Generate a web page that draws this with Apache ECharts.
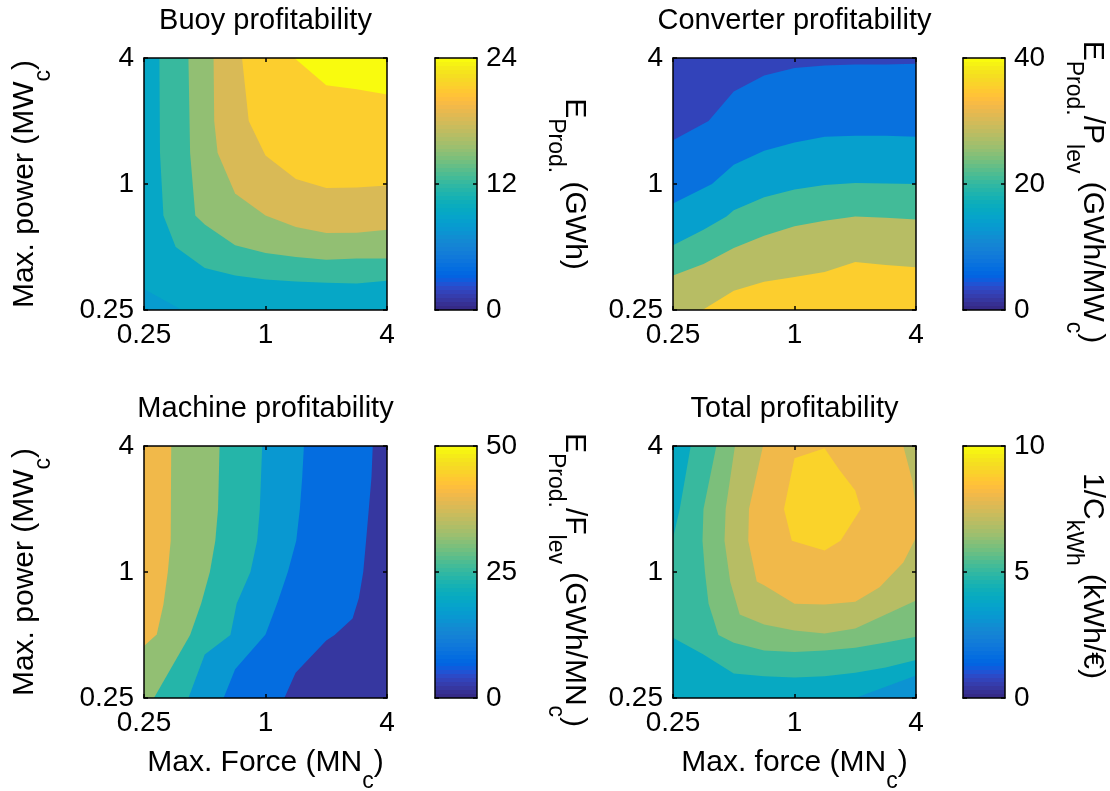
<!DOCTYPE html>
<html><head><meta charset="utf-8">
<script src="https://cdn.jsdelivr.net/npm/echarts@6/dist/echarts.min.js"></script>
<style>html,body{margin:0;padding:0;background:#fff}#c{width:1110px;height:791px}</style>
</head><body><div id="c"></div>
<script>
// ---------------- DATA ----------------
const forceTicks = [0.25, 1, 4];
const forceTickLabels = ['0.25', '1', '4'];
const powerTicks = [0.25, 1, 4];
const powerTickLabels = ['0.25', '1', '4'];

// Buoy profitability (GWh) : band values (colour of each filled band) and contour lines
const buoyCbTicks = [0, 12, 24];
const buoyBandValues = [7.9, 9, 12, 15, 18, 21, 24];
const buoyLine9  = [[0.25,0.315],[0.385,0.25]];
const buoyLine12 = [[0.298,4],[0.30,1.41],[0.312,0.707],[0.359,0.5],[0.5,0.397],[0.707,0.365],[1,0.35],[1.414,0.342],[2,0.337],[2.83,0.335],[4,0.345]];
const buoyLine15 = [[0.415,4],[0.423,1.41],[0.449,0.707],[0.5,0.64],[0.707,0.51],[1,0.468],[1.414,0.448],[2,0.435],[2.83,0.44],[4,0.44]];
const buoyLine18 = [[0.553,4],[0.557,2],[0.579,1.41],[0.707,0.9],[1,0.707],[1.414,0.623],[2,0.583],[2.83,0.585],[4,0.605]];
const buoyLine21 = [[0.765,4],[0.795,2.83],[0.826,2],[1,1.37],[1.414,1.056],[2,0.957],[2.83,0.963],[4,0.983]];
const buoyLine24 = [[1.39,4],[2,2.96],[2.83,2.84],[4,2.68]];

// Converter profitability (GWh/MWc)
const convCbTicks = [0, 20, 40];
const convBandValues = [2.8, 7, 14, 21, 28, 35];
const convLine7  = [[4,3.75],[2.83,3.72],[2,3.72],[1.41,3.68],[1,3.58],[0.707,3.3],[0.5,2.77],[0.375,2.0],[0.25,1.617]];
const convLine14 = [[4,1.68],[2.83,1.70],[2,1.70],[1.41,1.68],[1,1.58],[0.707,1.44],[0.5,1.237],[0.39,1.0],[0.25,0.806]];
const convLine21 = [[4,1.0],[2,1.01],[1.41,0.99],[1,0.94],[0.707,0.865],[0.5,0.75],[0.46,0.70],[0.354,0.605],[0.25,0.51]];
const convLine28 = [[4,0.676],[2.83,0.69],[2,0.70],[1.41,0.668],[1,0.628],[0.707,0.566],[0.5,0.495],[0.354,0.415],[0.25,0.365]];
const convLine35 = [[4,0.40],[2.83,0.41],[2,0.424],[1.41,0.38],[1,0.359],[0.707,0.341],[0.5,0.309],[0.35,0.25]];

// Machine profitability (GWh/MNc)
const machCbTicks = [0, 25, 50];
const machBandValues = [1.9, 8, 16, 24, 32, 40];
const machLine8  = [[1.24,0.25],[1.41,0.33],[2,0.47],[2.2,0.5],[2.7,0.6],[2.9,0.75],[3.05,1.0],[3.15,1.41],[3.25,2],[3.35,2.83],[3.4,4]];
const machLine16 = [[0.62,0.25],[0.707,0.343],[1,0.503],[1.15,0.72],[1.29,1.0],[1.42,1.41],[1.48,2],[1.52,2.83],[1.55,4]];
const machLine24 = [[0.415,0.25],[0.5,0.404],[0.67,0.5],[0.72,0.707],[0.842,1.0],[0.909,1.41],[0.937,2],[0.963,4]];
const machLine32 = [[0.28,0.25],[0.423,0.5],[0.48,0.707],[0.53,1.0],[0.564,1.41],[0.582,2],[0.592,4]];
const machLine40 = [[0.25,0.443],[0.289,0.503],[0.312,0.70],[0.328,1.0],[0.339,1.41],[0.341,4]];

// Total profitability (kWh/€)
const totCbTicks = [0, 5, 10];
const totBandValues = [3, 4, 5, 6, 7, 8, 9];
const totLine4  = [[2.0,0.25],[4,0.32]];
const totLine5a = [[0.306,4],[0.27,2],[0.25,1.45]];
const totLine5b = [[0.25,0.485],[0.354,0.404],[0.5,0.327],[0.707,0.318],[1,0.313],[1.41,0.318],[2,0.33],[2.83,0.35],[4,0.38]];
const totLine6  = [[0.41,4],[0.354,2],[0.35,1.41],[0.36,1.0],[0.375,0.707],[0.42,0.5],[0.5,0.459],[0.707,0.422],[1,0.415],[1.41,0.422],[2,0.434],[2.83,0.46],[4,0.49]];
const totLine7  = [[0.507,4],[0.456,2],[0.45,1.41],[0.48,0.9],[0.535,0.627],[0.707,0.562],[1,0.526],[1.41,0.509],[2,0.537],[2.83,0.627],[4,0.73]];
const totLine8a = [[0.698,4],[0.595,2],[0.59,1.41],[0.65,0.9],[0.707,0.865],[1,0.705],[1.41,0.70],[2,0.72],[2.64,0.845],[3.46,1.11],[4,1.46]];
const totLine8b = [[4,2.0],[3.84,2.72],[3.46,4]];
const totLine9  = [[1.41,3.9],[1.0,3.5],[0.887,2.0],[0.97,1.41],[1.41,1.267],[1.69,1.41],[2.13,2.0],[2.0,2.45],[1.66,3.1]];

// ---------------- STYLE / LAYOUT ----------------
const FONT = "'Liberation Sans', Arial, Helvetica, sans-serif";
const TICK_FS = 28, TITLE_FS = 29, LABEL_FS = 30, SUB_FS = 23;
const parula = [
[0.2081,0.1663,0.5292],[0.2116,0.1898,0.5777],[0.2123,0.2138,0.6270],[0.2081,0.2386,0.6771],
[0.1959,0.2645,0.7279],[0.1707,0.2919,0.7792],[0.1253,0.3242,0.8303],[0.0591,0.3598,0.8683],
[0.0117,0.3875,0.8820],[0.0060,0.4086,0.8828],[0.0165,0.4266,0.8786],[0.0329,0.4430,0.8720],
[0.0498,0.4586,0.8641],[0.0629,0.4737,0.8554],[0.0723,0.4887,0.8467],[0.0779,0.5040,0.8384],
[0.0793,0.5200,0.8312],[0.0749,0.5375,0.8263],[0.0641,0.5570,0.8240],[0.0488,0.5772,0.8228],
[0.0343,0.5966,0.8199],[0.0265,0.6137,0.8135],[0.0239,0.6287,0.8038],[0.0231,0.6418,0.7913],
[0.0228,0.6535,0.7768],[0.0267,0.6642,0.7607],[0.0384,0.6743,0.7436],[0.0590,0.6838,0.7254],
[0.0843,0.6928,0.7062],[0.1133,0.7015,0.6859],[0.1453,0.7098,0.6646],[0.1801,0.7177,0.6424],
[0.2178,0.7250,0.6193],[0.2586,0.7317,0.5954],[0.3022,0.7376,0.5712],[0.3482,0.7424,0.5473],
[0.3953,0.7459,0.5244],[0.4420,0.7481,0.5033],[0.4871,0.7491,0.4840],[0.5300,0.7491,0.4661],
[0.5709,0.7485,0.4494],[0.6099,0.7473,0.4337],[0.6473,0.7456,0.4188],[0.6834,0.7435,0.4044],
[0.7184,0.7411,0.3905],[0.7525,0.7384,0.3768],[0.7858,0.7356,0.3633],[0.8185,0.7327,0.3498],
[0.8507,0.7299,0.3360],[0.8824,0.7274,0.3217],[0.9139,0.7258,0.3063],[0.9450,0.7261,0.2886],
[0.9739,0.7314,0.2666],[0.9938,0.7455,0.2403],[0.9990,0.7653,0.2164],[0.9955,0.7861,0.1967],
[0.9880,0.8066,0.1794],[0.9789,0.8271,0.1633],[0.9697,0.8481,0.1475],[0.9626,0.8705,0.1309],
[0.9589,0.8949,0.1132],[0.9598,0.9218,0.0948],[0.9661,0.9514,0.0755],[0.9763,0.9831,0.0538]];
function rgb(c){return 'rgb('+Math.round(c[0]*255)+','+Math.round(c[1]*255)+','+Math.round(c[2]*255)+')';}
function cmap(v, cmax){ let i = Math.floor(v / cmax * 64); i = Math.max(0, Math.min(63, i)); return rgb(parula[i]); }
function colorbarGradient(){
  const stops = [];
  for (let i = 0; i < 64; i++) { const c = rgb(parula[63 - i]); stops.push({offset: i/64, color: c}); stops.push({offset: (i+1)/64, color: c}); }
  return new echarts.graphic.LinearGradient(0, 0, 0, 1, stops);
}

const panels = [
  {title:'Buoy profitability', cmax:24, cbTicks:buoyCbTicks, bands:buoyBandValues,
   regions:[[buoyLine9],[buoyLine12],[buoyLine15],[buoyLine18],[buoyLine21],[buoyLine24]],
   plot:{left:144, top:58, width:243, height:252}, cb:{left:435, top:58, width:42, height:252}},
  {title:'Converter profitability', cmax:40, cbTicks:convCbTicks, bands:convBandValues,
   regions:[[convLine7],[convLine14],[convLine21],[convLine28],[convLine35]],
   plot:{left:673, top:58, width:243, height:252}, cb:{left:963, top:58, width:42, height:252}},
  {title:'Machine profitability', cmax:50, cbTicks:machCbTicks, bands:machBandValues,
   regions:[[machLine8],[machLine16],[machLine24],[machLine32],[machLine40]],
   plot:{left:144, top:446, width:243, height:252}, cb:{left:435, top:446, width:42, height:252}},
  {title:'Total profitability', cmax:10, cbTicks:totCbTicks, bands:totBandValues,
   regions:[[totLine4],[totLine5a,totLine5b],[totLine6],[totLine7],[totLine8a,totLine8b],[totLine9]],
   plot:{left:673, top:446, width:243, height:252}, cb:{left:963, top:446, width:42, height:252}}
];

function tickFmt(ticks, labels){
  return function(v){ let best = 0; for (let i = 1; i < ticks.length; i++) if (Math.abs(Math.log(ticks[i]/v)) < Math.abs(Math.log(ticks[best]/v))) best = i; return labels[best]; };
}
const LINE = {color:'#000', width:1.5};
function logAxis(gi, pos, show, ticks, labels){
  return {type:'log', logBase:4, min:0.25, max:4, splitNumber:2, gridIndex:gi, position:pos, z:10,
    axisLine:{show:true, onZero:false, lineStyle:LINE},
    axisTick:{show:true, inside:true, length:4, lineStyle:LINE},
    axisLabel:{show:show, fontSize:TICK_FS, fontFamily:FONT, color:'#000', margin:pos==='bottom'?11:10, formatter:tickFmt(ticks, labels)},
    splitLine:{show:false}, minorTick:{show:false}};
}
function cbX(gi, pos){
  return {type:'value', min:0, max:1, gridIndex:gi, position:pos, z:10,
    axisLine:{show:true, onZero:false, lineStyle:LINE}, axisTick:{show:false}, axisLabel:{show:false}, splitLine:{show:false}};
}
function cbY(gi, pos, p){
  return {type:'value', min:0, max:p.cmax, interval:p.cbTicks[1], gridIndex:gi, position:pos, z:10,
    axisLine:{show:true, onZero:false, lineStyle:LINE},
    axisTick:{show:true, inside:true, length:4, lineStyle:LINE},
    axisLabel:{show:pos==='right', fontSize:TICK_FS, fontFamily:FONT, color:'#000', margin:9},
    splitLine:{show:false}};
}

function edgeT(p, L, R, T, B){
  const x = p[0], y = p[1], eps = 0.6;
  const dT = Math.abs(y-T), dB = Math.abs(y-B), dL = Math.abs(x-L), dR = Math.abs(x-R);
  const m = Math.min(dT, dB, dL, dR);
  if (m > eps) return null;
  if (m === dT) return (R - x) / (R - L);
  if (m === dL) return 1 + (y - T) / (B - T);
  if (m === dB) return 2 + (x - L) / (R - L);
  return 3 + (B - y) / (B - T);
}
function makeContourRender(p){
  return function(params, api){
    const idx = api.value(0);
    const a = api.coord([0.25, 0.25]), b = api.coord([4, 4]);
    const L = a[0], R = b[0], T = b[1], B = a[1];
    const fill = cmap(api.value(1), p.cmax);
    if (idx === 0) return {type:'rect', shape:{x:L, y:T, width:R-L, height:B-T}, style:{fill:fill}};
    const region = p.regions[idx - 1];
    const corners = [[R,T],[L,T],[L,B],[R,B]];
    const pts = [];
    const lines = region.map(line => line.map(q => api.coord(q)));
    for (let k = 0; k < lines.length; k++){
      const ln = lines[k];
      ln.forEach(q => pts.push(q));
      const tEnd = edgeT(ln[ln.length-1], L, R, T, B);
      const nxt = lines[(k + 1) % lines.length];
      let tStart = edgeT(nxt[0], L, R, T, B);
      if (tEnd === null || tStart === null) continue;
      if (tStart <= tEnd) tStart += 4;
      for (let c = Math.floor(tEnd) + 1; c < tStart; c++) pts.push(corners[c % 4]);
    }
    return {type:'polygon', shape:{points:pts}, style:{fill:fill}};
  };
}
function makeCbRender(p){
  return function(params, api){
    const a = api.coord([0, 0]), b = api.coord([1, p.cmax]);
    return {type:'rect', shape:{x:a[0], y:b[1], width:b[0]-a[0], height:a[1]-b[1]}, style:{fill:colorbarGradient()}};
  };
}

const grids = [], xAxes = [], yAxes = [], series = [];
panels.forEach((p, i) => {
  const gp = grids.length; grids.push(Object.assign({containLabel:false}, p.plot));
  const gc = grids.length; grids.push(Object.assign({containLabel:false}, p.cb));
  const xb = xAxes.length;
  xAxes.push(logAxis(gp, 'bottom', true, forceTicks, forceTickLabels));
  xAxes.push(logAxis(gp, 'top', false, forceTicks, forceTickLabels));
  const yl = yAxes.length;
  yAxes.push(logAxis(gp, 'left', true, powerTicks, powerTickLabels));
  yAxes.push(logAxis(gp, 'right', false, powerTicks, powerTickLabels));
  const xc = xAxes.length;
  xAxes.push(cbX(gc, 'bottom')); xAxes.push(cbX(gc, 'top'));
  const yc = yAxes.length;
  yAxes.push(cbY(gc, 'right', p)); yAxes.push(cbY(gc, 'left', p));
  series.push({type:'custom', coordinateSystem:'cartesian2d', xAxisIndex:xb, yAxisIndex:yl, silent:true, z:2,
    encode:{x:2, y:3}, data:p.bands.map((v, k) => [k, v, 1, 1]), renderItem:makeContourRender(p)});
  series.push({type:'custom', coordinateSystem:'cartesian2d', xAxisIndex:xc, yAxisIndex:yc, silent:true, z:2,
    encode:{x:0, y:1}, data:[[0.5, p.cmax/2]], renderItem:makeCbRender(p)});
});

function rich(tokens){ return tokens.map(t => '{' + t[0] + '|' + t[1] + '}').join(''); }
const richStyles = {
  m:{fontSize:LABEL_FS, fontFamily:FONT, fill:'#000', lineHeight:60, verticalAlign:'middle'},
  s:{fontSize:SUB_FS, fontFamily:FONT, fill:'#000', lineHeight:20, verticalAlign:'bottom'}
};
function label(x, y, rot, tokens){
  return {type:'text', x:x, y:y, rotation:rot, z:20,
    style:{text:rich(tokens), rich:richStyles, align:'center', verticalAlign:'middle', fill:'#000', fontFamily:FONT, fontSize:LABEL_FS}};
}
function title(x, y, txt){
  return {type:'text', x:x, y:y, z:20, style:{text:txt, fontSize:TITLE_FS, fontFamily:FONT, fill:'#000', align:'center', verticalAlign:'middle'}};
}
const yLabelTokens = [['m','Max. power (MW'],['s','c'],['m',')']];
const graphics = [
  title(265.5, 21, panels[0].title), title(794.5, 21, panels[1].title),
  title(265.5, 409, panels[2].title), title(794.5, 409, panels[3].title),
  label(25, 184, Math.PI/2, yLabelTokens),
  label(25, 572, Math.PI/2, yLabelTokens),
  label(265.5, 763, 0, [['m','Max. Force (MN'],['s','c'],['m',')']]),
  label(794.5, 763, 0, [['m','Max. force (MN'],['s','c'],['m',')']]),
  label(574, 184, -Math.PI/2, [['m','E'],['s','Prod.'],['m',' (GWh)']]),
  label(1092, 192, -Math.PI/2, [['m','E'],['s','Prod.'],['m','/P'],['s','lev'],['m',' (GWh/MW'],['s','c'],['m',')']]),
  label(574, 580, -Math.PI/2, [['m','E'],['s','Prod.'],['m','/F'],['s','lev'],['m',' (GWh/MN'],['s','c'],['m',')']]),
  label(1092, 576, -Math.PI/2, [['m','1/C'],['s','kWh'],['m',' (kWh/€)']])
];

const chart = echarts.init(document.getElementById('c'), null, {renderer:'canvas', width:1110, height:791});
chart.setOption({
  backgroundColor:'#fff', animation:false,
  grid:grids, xAxis:xAxes, yAxis:yAxes, series:series, graphic:graphics
});
</script></body></html>
